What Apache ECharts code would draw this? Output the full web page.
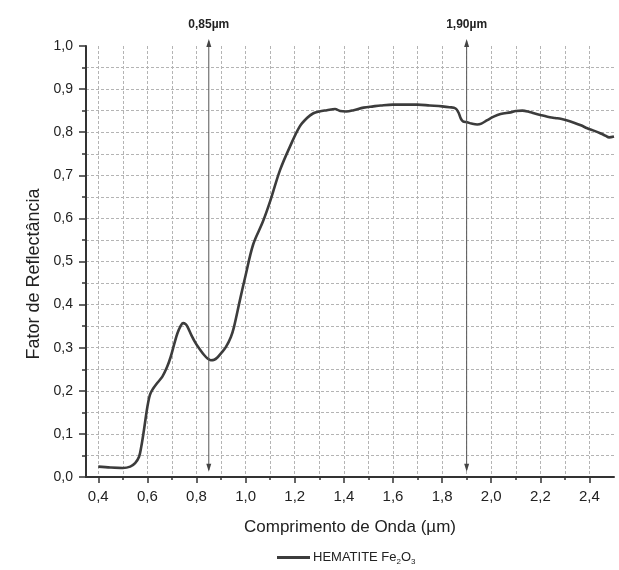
<!DOCTYPE html>
<html>
<head>
<meta charset="utf-8">
<script src="https://cdn.jsdelivr.net/npm/echarts@6/dist/echarts.min.js"></script>
<style>
  html, body { margin: 0; padding: 0; background: #ffffff; }
  #chart { width: 619px; height: 570px; }
</style>
</head>
<body>
<div id="chart"></div>
<script>
// Reflectance spectrum of hematite (Fe2O3)
const wavelength = [
  0.40, 0.45, 0.50, 0.53, 0.55, 0.566, 0.575, 0.586, 0.60, 0.61,
  0.62, 0.64, 0.661, 0.68, 0.695, 0.71, 0.722, 0.735, 0.745, 0.755,
  0.763, 0.78, 0.797, 0.815, 0.831, 0.845, 0.858, 0.872, 0.886, 0.90,
  0.92, 0.94, 0.953, 0.977, 1.00, 1.031, 1.07, 1.10, 1.14, 1.18,
  1.22, 1.25, 1.276, 1.30, 1.331, 1.364, 1.385, 1.41, 1.44, 1.48,
  1.52, 1.55, 1.60, 1.65, 1.70, 1.75, 1.80, 1.83, 1.855, 1.868,
  1.876, 1.885, 1.902, 1.92, 1.943, 1.96, 1.984, 2.01, 2.038, 2.079,
  2.10, 2.127, 2.15, 2.174, 2.20, 2.229, 2.26, 2.283, 2.31, 2.337,
  2.365, 2.391, 2.42, 2.446, 2.465, 2.48, 2.50
];
const reflectance = [
  0.024, 0.022, 0.021, 0.024, 0.032, 0.047, 0.070, 0.109, 0.163, 0.190,
  0.202, 0.218, 0.233, 0.255, 0.279, 0.310, 0.333, 0.350, 0.357, 0.355,
  0.349, 0.328, 0.310, 0.295, 0.283, 0.275, 0.271, 0.272, 0.278, 0.287,
  0.302, 0.325, 0.349, 0.411, 0.468, 0.540, 0.592, 0.640, 0.712, 0.766,
  0.813, 0.833, 0.844, 0.848, 0.851, 0.854, 0.849, 0.848, 0.851, 0.857,
  0.860, 0.862, 0.864, 0.864, 0.864, 0.862, 0.860, 0.858, 0.855, 0.844,
  0.832, 0.825, 0.823, 0.820, 0.818, 0.820, 0.828, 0.836, 0.842, 0.846,
  0.849, 0.850, 0.848, 0.844, 0.840, 0.836, 0.833, 0.831, 0.827, 0.822,
  0.816, 0.809, 0.803, 0.797, 0.792, 0.788, 0.790
];

// Axis ticks and grid positions
const xMajorTicks = [0.4, 0.6, 0.8, 1.0, 1.2, 1.4, 1.6, 1.8, 2.0, 2.2, 2.4];
const xGridLines = [0.4, 0.5, 0.6, 0.7, 0.8, 0.9, 1.0, 1.1, 1.2, 1.3, 1.4,
                    1.5, 1.6, 1.7, 1.8, 1.9, 2.0, 2.1, 2.2, 2.3, 2.4];

// Absorption band markers
const bandPositions = [0.85, 1.90];
const bandLabels = ['0,85µm', '1,90µm'];
const bandSpan = [0.012, 1.016];

const seriesName = 'HEMATITE Fe2O3';
const FONT = '"Liberation Sans", Arial, Helvetica, sans-serif';
const fmt = v => v.toFixed(1).replace('.', ',');

const chart = echarts.init(document.getElementById('chart'), null, { renderer: 'canvas' });

const dashed = { color: '#b4b4b4', width: 1, type: [3, 2] };

chart.setOption({
  backgroundColor: '#ffffff',
  animation: false,
  grid: { left: 86, right: 5, top: 46, bottom: 93, containLabel: false, outerBoundsMode: 'none' },
  legend: {
    left: 277, top: 551,
    padding: 0,
    icon: 'rect',
    itemWidth: 33, itemHeight: 3, itemGap: 10,
    data: [seriesName],
    formatter: () => 'HEMATITE Fe{sub|2}O{sub|3}',
    textStyle: {
      fontFamily: FONT, fontSize: 13, color: '#222', padding: [0, 0, 0, -2],
      rich: { sub: { fontFamily: FONT, fontSize: 8, color: '#222', padding: [9, 0, 0, 0] } }
    }
  },
  xAxis: [
    {
      type: 'value', position: 'bottom',
      min: 0.35, max: 2.5,
      axisLine: { show: true, onZero: false, lineStyle: { color: '#333', width: 2 } },
      axisTick: { show: true, inside: false, length: 3, customValues: xGridLines, lineStyle: { color: '#333', width: 1.5 } },
      axisLabel: { show: false },
      splitLine: { show: true, lineStyle: dashed }
    },
    {
      type: 'value', position: 'bottom',
      min: 0.35, max: 2.5,
      axisLine: { show: false, onZero: false },
      axisTick: { show: true, inside: false, length: 6, customValues: xMajorTicks, lineStyle: { color: '#333', width: 1.5 } },
      axisLabel: {
        show: true, customValues: xMajorTicks, margin: 12,
        fontFamily: FONT, fontSize: 15, color: '#222',
        formatter: fmt
      },
      splitLine: { show: false },
      name: 'Comprimento de Onda (µm)',
      nameLocation: 'middle', nameGap: 42,
      nameTextStyle: { fontFamily: FONT, fontSize: 17, color: '#222' }
    }
  ],
  yAxis: {
    type: 'value',
    min: 0, max: 1, interval: 0.1,
    axisLine: { show: true, onZero: false, lineStyle: { color: '#333', width: 2 } },
    axisTick: { show: true, inside: false, length: 7, lineStyle: { color: '#333', width: 1.5 } },
    minorTick: { show: true, splitNumber: 2, length: 4, lineStyle: { color: '#333', width: 1.5 } },
    axisLabel: { margin: 13, fontFamily: FONT, fontSize: 14, color: '#222', formatter: fmt },
    splitLine: { show: true, showMinLine: false, showMaxLine: false, lineStyle: dashed },
    minorSplitLine: { show: true, lineStyle: dashed },
    name: 'Fator de Reflectância',
    nameLocation: 'middle', nameGap: 41,
    nameTextStyle: { fontFamily: FONT, fontSize: 18, color: '#222', padding: [0, 25, 0, 0] }
  },
  series: [{
    name: seriesName,
    type: 'line',
    xAxisIndex: 0, yAxisIndex: 0,
    data: wavelength.map((w, i) => [w, reflectance[i]]),
    showSymbol: false, symbol: 'none',
    smooth: 0.35,
    lineStyle: { color: '#3c3c3c', width: 2.6 },
    itemStyle: { color: '#3c3c3c' },
    clip: false
  }]
});

// Vertical double-headed arrows marking the absorption bands
const graphics = [];
bandPositions.forEach((b, i) => {
  const lo = chart.convertToPixel({ xAxisIndex: 0, yAxisIndex: 0 }, [b, bandSpan[0]]);
  const hi = chart.convertToPixel({ xAxisIndex: 0, yAxisIndex: 0 }, [b, bandSpan[1]]);
  const x = lo[0];
  const head = 8, half = 2.5;
  graphics.push({
    type: 'line', silent: true, z: 20,
    shape: { x1: x, y1: hi[1] + 2, x2: x, y2: lo[1] - 2 },
    style: { stroke: '#555', lineWidth: 1 }
  });
  graphics.push({
    type: 'polygon', silent: true, z: 20,
    shape: { points: [[x, hi[1]], [x - half, hi[1] + head], [x + half, hi[1] + head]] },
    style: { fill: '#444' }
  });
  graphics.push({
    type: 'polygon', silent: true, z: 20,
    shape: { points: [[x, lo[1]], [x - half, lo[1] - head], [x + half, lo[1] - head]] },
    style: { fill: '#444' }
  });
  graphics.push({
    type: 'text', silent: true, z: 20,
    x: x, y: hi[1] - 8,
    style: {
      text: bandLabels[i], fontFamily: FONT, fontSize: 12, fontWeight: 'bold',
      fill: '#222', align: 'center', verticalAlign: 'bottom'
    }
  });
});
chart.setOption({ graphic: graphics });
</script>
</body>
</html>
